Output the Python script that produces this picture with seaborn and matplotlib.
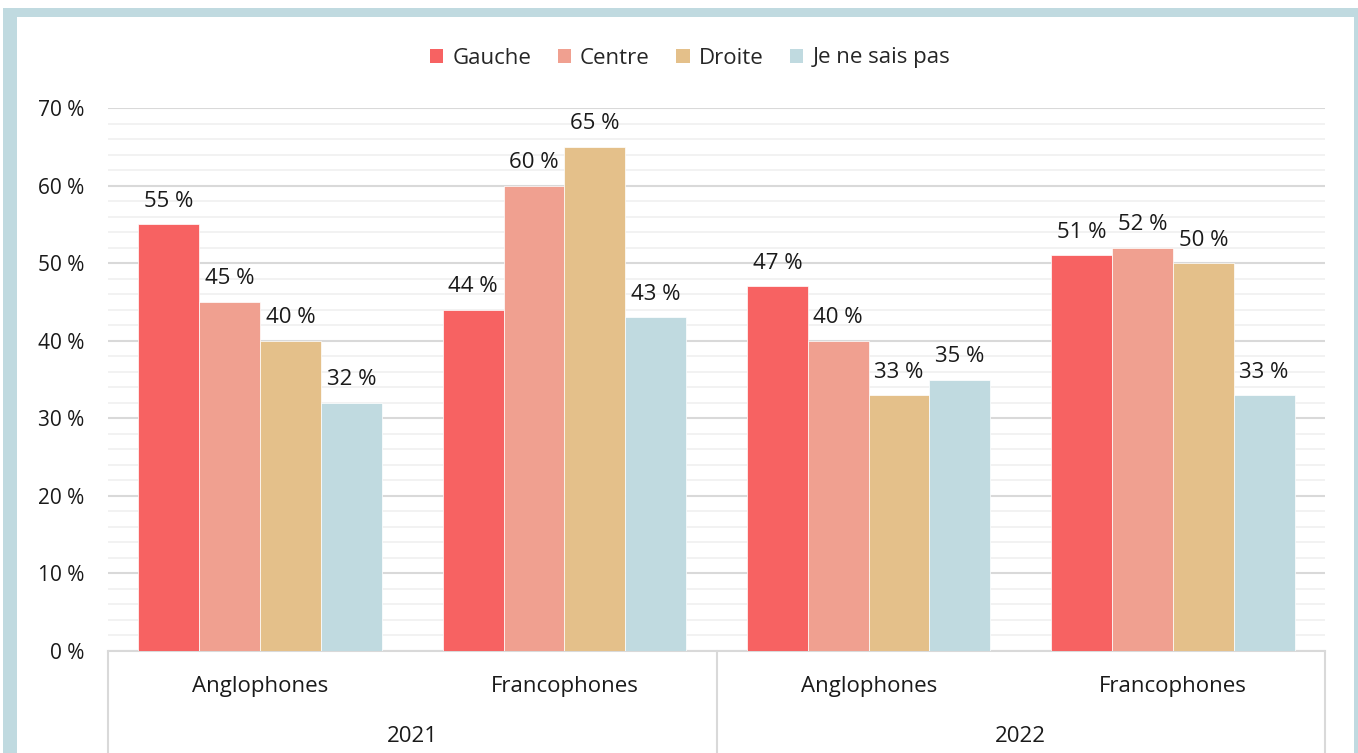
import pandas as pd
import matplotlib.pyplot as plt
import matplotlib.transforms as mtransforms
from matplotlib.patches import Rectangle, Patch
from matplotlib.ticker import MultipleLocator, FuncFormatter
import seaborn as sns

# data
annees = ['2021', '2021', '2022', '2022']
groupes = ['Anglophones', 'Francophones', 'Anglophones', 'Francophones']
reponses = ['Gauche', 'Centre', 'Droite', 'Je ne sais pas']
gauche = [55, 44, 47, 51]
centre = [45, 60, 40, 52]
droite = [40, 65, 33, 50]
ne_sait_pas = [32, 43, 35, 33]
couleurs = ['#F76262', '#F0A090', '#E4C08A', '#C0DAE0']

rows = []
for serie, vals in zip(reponses, [gauche, centre, droite, ne_sait_pas]):
    for a, g, v in zip(annees, groupes, vals):
        rows.append({'cat': f'{g} {a}', 'reponse': serie, 'valeur': v})
df = pd.DataFrame(rows)
ordre = [f'{g} {a}' for g, a in zip(groupes, annees)]

sns.set_style('white')
plt.rcParams['font.family'] = ['Open Sans', 'DejaVu Sans']
txt = '#1a1a1a'
fs = 16

fig = plt.figure(figsize=(13.58, 7.53), dpi=100)
W, H = 1358, 753
# light blue frame
fig.patches.append(Rectangle((3 / W, 0), 1, (H - 8) / H, transform=fig.transFigure,
                             facecolor='#C0DAE0', edgecolor='none', zorder=-2))
fig.patches.append(Rectangle((17 / W, 0), (1354 - 17) / W, (H - 17) / H,
                             transform=fig.transFigure, facecolor='white',
                             edgecolor='none', zorder=-1))

ax = fig.add_axes([108 / W, 1 - 651 / H, (1325 - 108) / W, (651 - 108) / H])
ax.set_facecolor('none')
sns.barplot(data=df, x='cat', y='valeur', hue='reponse', order=ordre,
            hue_order=reponses, palette=couleurs, width=0.8, gap=0,
            saturation=1, legend=False, ax=ax, zorder=3,
            edgecolor='white', linewidth=0.5)

for cont in ax.containers:
    ax.bar_label(cont, labels=[f'{int(b.get_height())} %' for b in cont],
                 padding=9, fontsize=fs, color=txt)

ax.set_ylim(0, 70)
ax.set_xlim(-0.5, 3.5)
ax.yaxis.set_major_locator(MultipleLocator(10))
ax.yaxis.set_minor_locator(MultipleLocator(2))
ax.yaxis.set_major_formatter(FuncFormatter(lambda v, p: f'{int(v)} %'))
ax.grid(axis='y', which='major', color='#d9d9d9', linewidth=1.5, zorder=0)
ax.grid(axis='y', which='minor', color='#f0f0f0', linewidth=1.2, zorder=0)
ax.tick_params(axis='y', which='both', length=0, pad=17, labelsize=fs - 1, labelcolor=txt)
ax.tick_params(axis='x', length=0, pad=18, labelsize=fs, labelcolor=txt)
ax.set_xticks(range(4))
ax.set_xticklabels(groupes)
ax.set_xlabel('')
ax.set_ylabel('')
for s in ['top', 'right', 'left']:
    ax.spines[s].set_visible(False)
ax.spines['bottom'].set_color('#d9d9d9')
ax.spines['bottom'].set_linewidth(1.5)

# second level of the category axis
trans = mtransforms.blended_transform_factory(ax.transData, ax.transAxes)
for x in [-0.5, 1.5, 3.5]:
    ax.plot([x, x], [0, -0.3], transform=trans, color='#d9d9d9', lw=1.5,
            clip_on=False)
for x, a in [(0.5, '2021'), (2.5, '2022')]:
    ax.text(x, -0.157, a, transform=trans, ha='center', va='center',
            fontsize=fs, color=txt)

handles = [Patch(facecolor=c, edgecolor='none') for c in couleurs]
fig.legend(handles, reponses, loc='center', bbox_to_anchor=(690 / W, 1 - 58 / H),
           ncol=4, frameon=False, fontsize=fs, handlelength=0.6,
           handleheight=0.6, handletextpad=0.4, columnspacing=1.2)

fig.savefig('out.png', dpi=100)
